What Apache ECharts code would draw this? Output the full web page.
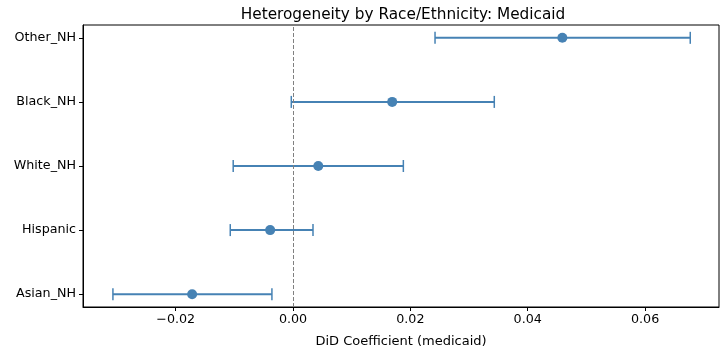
<!DOCTYPE html>
<html lang="en">
<head>
    <meta charset="UTF-8">
    <title>Heterogeneity by Race/Ethnicity: Medicaid</title>
    <script src="https://cdn.jsdelivr.net/npm/echarts@6/dist/echarts.min.js"></script>
    <style>
        html, body { margin: 0; padding: 0; background: #fff; }
        #chart { width: 722px; height: 353px; }
    </style>
</head>
<body>
    <div id="chart"></div>
    <script>
        // bottom to top, as drawn on the y axis
        var groups = ['Asian_NH', 'Hispanic', 'White_NH', 'Black_NH', 'Other_NH'];
        var coef = [-0.0172, -0.0039, 0.0043, 0.0169, 0.0459];
        var ciLow = [-0.0307, -0.0107, -0.0102, -0.0003, 0.0242];
        var ciHigh = [-0.0036, 0.0034, 0.0188, 0.0343, 0.0677];
        var xTicks = [-0.02, 0, 0.02, 0.04, 0.06];

        var color = '#4682b4';
        var font = 'DejaVu Sans';

        var chart = echarts.init(document.getElementById('chart'));

        var barData = groups.map(function (g, i) { return [ciLow[i], ciHigh[i], i]; });
        var dotData = groups.map(function (g, i) { return [coef[i], i]; });

        function renderBar(params, api) {
            var a = api.coord([api.value(0), api.value(2)]);
            var b = api.coord([api.value(1), api.value(2)]);
            var st = { stroke: color, lineWidth: 2 };
            var cap = 6;
            return {
                type: 'group',
                children: [
                    { type: 'line', shape: { x1: a[0], y1: a[1], x2: b[0], y2: b[1] }, style: st },
                    { type: 'line', shape: { x1: a[0], y1: a[1] - cap, x2: a[0], y2: a[1] + cap }, style: { stroke: color, lineWidth: 1.5 } },
                    { type: 'line', shape: { x1: b[0], y1: b[1] - cap, x2: b[0], y2: b[1] + cap }, style: { stroke: color, lineWidth: 1.5 } }
                ]
            };
        }

        chart.setOption({
            animation: false,
            title: {
                text: 'Heterogeneity by Race/Ethnicity: Medicaid',
                left: 398, top: 3, textAlign: 'center',
                textStyle: { fontFamily: font, fontSize: 15.3, fontWeight: 'normal', color: '#000' }
            },
            grid: {
                left: 83, right: 3, top: 25, bottom: 46,
                show: true, borderColor: '#000', borderWidth: 1
            },
            xAxis: {
                type: 'value',
                min: -0.0358, max: 0.0726,
                name: 'DiD Coefficient (medicaid)',
                nameLocation: 'middle', nameGap: 28,
                nameTextStyle: { fontFamily: font, fontSize: 13, color: '#000' },
                axisLine: { show: true, onZero: false, lineStyle: { color: '#000' } },
                axisTick: { show: true, inside: false, length: 4, customValues: xTicks, lineStyle: { color: '#000' } },
                axisLabel: {
                    customValues: xTicks, margin: 6,
                    fontFamily: font, fontSize: 12.7, color: '#000',
                    formatter: function (v) { return v.toFixed(2).replace('-', '\u2212'); }
                },
                splitLine: { show: false }
            },
            yAxis: {
                type: 'value',
                min: -0.2, max: 4.2,
                axisLine: { show: true, onZero: false, lineStyle: { color: '#000' } },
                axisTick: { show: true, inside: false, length: 4, customValues: [0, 1, 2, 3, 4], lineStyle: { color: '#000' } },
                axisLabel: {
                    customValues: [0, 1, 2, 3, 4], margin: 7,
                    fontFamily: font, fontSize: 12.7, color: '#000',
                    formatter: function (v) { return groups[Math.round(v)]; }
                },
                splitLine: { show: false }
            },
            series: [
                {
                    type: 'custom',
                    renderItem: renderBar,
                    data: barData,
                    encode: { x: [0, 1], y: 2 },
                    z: 2,
                    markLine: {
                        silent: true, symbol: 'none',
                        label: { show: false },
                        lineStyle: { color: '#808080', type: [4, 2], width: 1 },
                        data: [{ xAxis: 0 }]
                    }
                },
                {
                    type: 'scatter',
                    data: dotData,
                    symbolSize: 10,
                    itemStyle: { color: color, opacity: 1 },
                    z: 3
                }
            ]
        });
    </script>
</body>
</html>
